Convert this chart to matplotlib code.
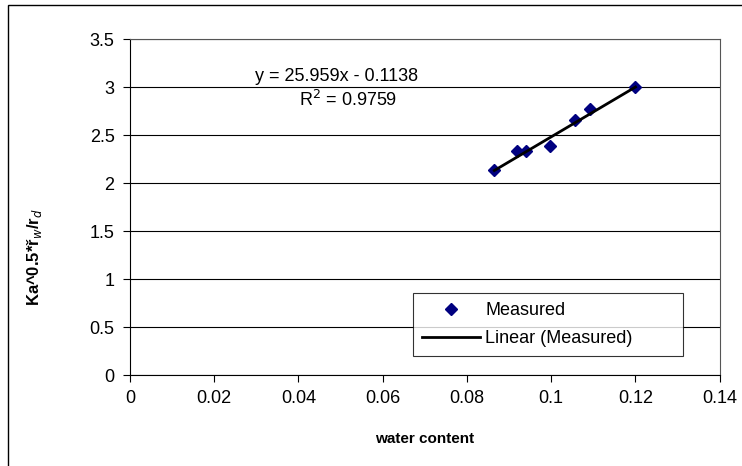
import matplotlib.pyplot as plt
import numpy as np
from matplotlib.patches import Rectangle
from matplotlib.ticker import FuncFormatter

plt.rcParams['font.family'] = ['Liberation Sans', 'DejaVu Sans']

# 实测数据: 含水量 与 Ka^0.5*ρw/ρd
water_content = [0.0865, 0.092, 0.094, 0.0997, 0.1057, 0.1092, 0.12]
ka_ratio = [2.14, 2.33, 2.33, 2.39, 2.66, 2.77, 3.0]

# 线性拟合结果
slope = 25.959
intercept = -0.1138
r2 = 0.9759

fig = plt.figure(figsize=(7.42, 4.66), dpi=100)
ax = fig.add_axes([0.175, 0.195, 0.795, 0.721])

# 外框
fig.patches.append(Rectangle((8 / 742, -0.05), 1.2, 1 - 5 / 466 + 0.05,
                             transform=fig.transFigure, fill=False,
                             edgecolor='black', linewidth=1.0))

ax.plot(water_content, ka_ratio, linestyle='none', marker='D', markersize=6,
        color='#000080', label='Measured', zorder=3)
xs = np.array([min(water_content), max(water_content)])
ax.plot(xs, slope * xs + intercept, color='black', linewidth=2,
        label='Linear (Measured)', zorder=4)

ax.set_xlim(0, 0.14)
ax.set_ylim(0, 3.5)
ax.set_xticks(np.arange(0, 0.141, 0.02))
ax.set_yticks(np.arange(0, 3.51, 0.5))
ax.xaxis.set_major_formatter(FuncFormatter(lambda v, p: '%g' % round(v, 3)))
ax.yaxis.set_major_formatter(FuncFormatter(lambda v, p: '%g' % round(v, 2)))
ax.tick_params(direction='out', length=5, width=0.8, labelsize=13, pad=6)
ax.grid(axis='y', color='black', linewidth=0.8)
ax.set_axisbelow(True)
for s in ax.spines.values():
    s.set_linewidth(0.8)
for s in ('top', 'right'):
    ax.spines[s].set_color('#555555')

ax.set_xlabel('water content', fontsize=11, fontweight='bold', labelpad=18)
ax.set_ylabel(r'Ka^0.5*ř$_{w}$/r$_{d}$', fontsize=12, fontweight='bold')
ax.yaxis.set_label_coords(-0.145, 0.35)

ax.text(0.0491, 3.115, 'y = 25.959x - 0.1138', ha='center', va='center', fontsize=13)
ax.text(0.0517, 2.866, 'R$^2$ = %.4f' % r2, ha='center', va='center', fontsize=13)

leg = ax.legend(loc='upper left', bbox_to_anchor=(0.48, 0.05, 0.457, 0.194),
                mode='expand', borderaxespad=0, fontsize=13, frameon=True,
                fancybox=False, edgecolor='black', handlelength=3.2,
                handletextpad=0.3, borderpad=0.5, labelspacing=0.6)
leg.get_frame().set_linewidth(0.8)

fig.savefig('out.png', dpi=100)
